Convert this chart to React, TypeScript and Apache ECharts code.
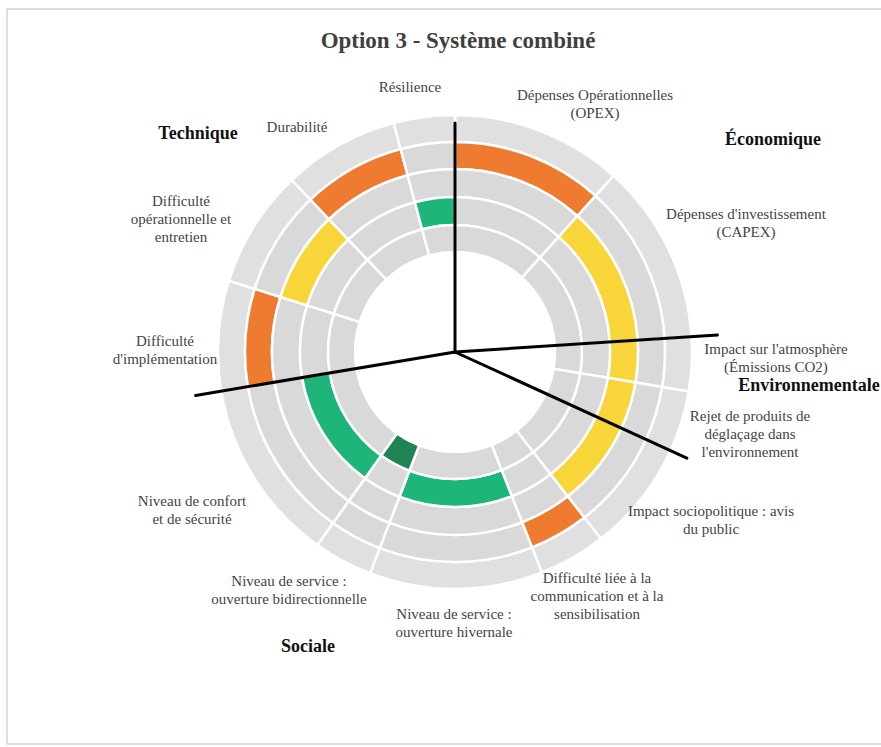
import React, { useEffect, useRef } from "react";
import * as echarts from "echarts";

// ---- Data (clockwise from 12 o'clock) ----
const criteria: string[] = [
  "Dépenses Opérationnelles\n(OPEX)",
  "Dépenses d'investissement\n(CAPEX)",
  "Impact sur l'atmosphère\n(Émissions CO2)",
  "Rejet de produits de\ndéglaçage dans\nl'environnement",
  "Impact sociopolitique : avis\ndu public",
  "Difficulté liée à la\ncommunication et à la\nsensibilisation",
  "Niveau de service :\nouverture hivernale",
  "Niveau de service :\nouverture bidirectionnelle",
  "Niveau de confort\net de sécurité",
  "Difficulté\nd'implémentation",
  "Difficulté\nopérationnelle et\nentretien",
  "Durabilité",
  "Résilience",
];
// relative weights (angular share of each criterion)
const weights: number[] = [42, 44.3, 13.3, 15, 27.4, 16.5, 42.5, 14.5, 45, 27, 29, 28.5, 15];
// score = ring holding the coloured block, 1 = outermost ... 5 = innermost
const scores: number[] = [2, 3, 3, 3, 3, 2, 4, 5, 4, 2, 3, 2, 4];

const categories: string[] = ["Économique", "Environnementale", "Sociale", "Technique"];
const categoryCounts: number[] = [2, 2, 5, 4];

const title = "Option 3 - Système combiné";

// ---- Layout / styles ----
const W = 881;
const H = 747;
const CX = 455;
const CY = 352;
const ringRadii: [number, number][] = [
  [210, 237],
  [183, 210],
  [155, 183],
  [127, 155],
  [100, 127],
];
const scoreColors = ["#c00000", "#ef7b30", "#f8d63a", "#1db57a", "#1f8455"];
const grayOuter = "#e0e0e0";
const gray = "#d9d9d9";

const labelPos: [number, number][] = [
  [595, 104],
  [746, 223],
  [776, 358],
  [750, 434],
  [711, 520],
  [597, 596],
  [454, 623],
  [289, 590],
  [192, 510],
  [165, 350],
  [181, 219],
  [297, 127],
  [410, 87],
];
const categoryPos: [number, number][] = [
  [773, 139],
  [809, 385],
  [308, 646],
  [198, 133],
];
// separator length for each category start boundary (Économique, Environnementale, Sociale, Technique)
const separatorLen: number[] = [229, 263, 255, 263];

export default function App() {
  const ref = useRef<HTMLDivElement>(null);

  useEffect(() => {
    document.body.style.margin = "0";
    if (!ref.current) return;
    const chart = echarts.init(ref.current, undefined, { renderer: "svg" });

    const total = weights.reduce((a, b) => a + b, 0);

    const series: any[] = ringRadii.map((r, ri) => ({
      type: "pie",
      center: [CX, CY],
      radius: [r[0], r[1]],
      startAngle: 90,
      clockwise: true,
      silent: true,
      label: { show: false },
      labelLine: { show: false },
      emphasis: { disabled: true },
      itemStyle: { borderColor: "#ffffff", borderWidth: 2.5 },
      data: criteria.map((c, i) => ({
        name: c,
        value: weights[i],
        itemStyle: {
          color: scores[i] === ri + 1 ? scoreColors[ri] : ri === 0 ? grayOuter : gray,
        },
      })),
    }));

    const graphics: any[] = [];
    graphics.push({
      type: "rect",
      shape: { x: 7, y: 9, width: 900, height: 735 },
      style: { fill: "none", stroke: "#d4d4d4", lineWidth: 1.5 },
      z: 0,
    });
    // category separator lines from cumulative weights
    let idx = 0;
    categoryCounts.forEach((n, ci) => {
      let cum = 0;
      for (let k = 0; k < idx; k++) cum += weights[k];
      const ang = ((90 - (cum / total) * 360) * Math.PI) / 180;
      const L = separatorLen[ci];
      graphics.push({
        type: "line",
        shape: { x1: CX, y1: CY, x2: CX + L * Math.cos(ang), y2: CY - L * Math.sin(ang) },
        style: { stroke: "#000000", lineWidth: 3, lineCap: "round" },
        z: 100,
      });
      idx += n;
    });

    criteria.forEach((c, i) => {
      graphics.push({
        type: "text",
        style: {
          text: c,
          x: labelPos[i][0],
          y: labelPos[i][1],
          align: "center",
          verticalAlign: "middle",
          font: '15px "Liberation Serif"',
          lineHeight: 18,
          fill: "#43434d",
        },
        z: 100,
      });
    });

    categories.forEach((c, i) => {
      graphics.push({
        type: "text",
        style: {
          text: c,
          x: categoryPos[i][0],
          y: categoryPos[i][1],
          align: "center",
          verticalAlign: "middle",
          font: 'bold 18px "Liberation Serif"',
          fill: "#111111",
        },
        z: 100,
      });
    });

    chart.setOption({
      animation: false,
      backgroundColor: "#ffffff",
      title: {
        text: title,
        left: 453,
        top: 24,
        textAlign: "center",
        textStyle: {
          fontFamily: "Liberation Serif",
          fontSize: 23,
          fontWeight: "bold",
          color: "#404040",
        },
      },
      series,
      graphic: graphics,
    });

    return () => chart.dispose();
  }, []);

  return <div ref={ref} style={{ width: W, height: H }} />;
}
